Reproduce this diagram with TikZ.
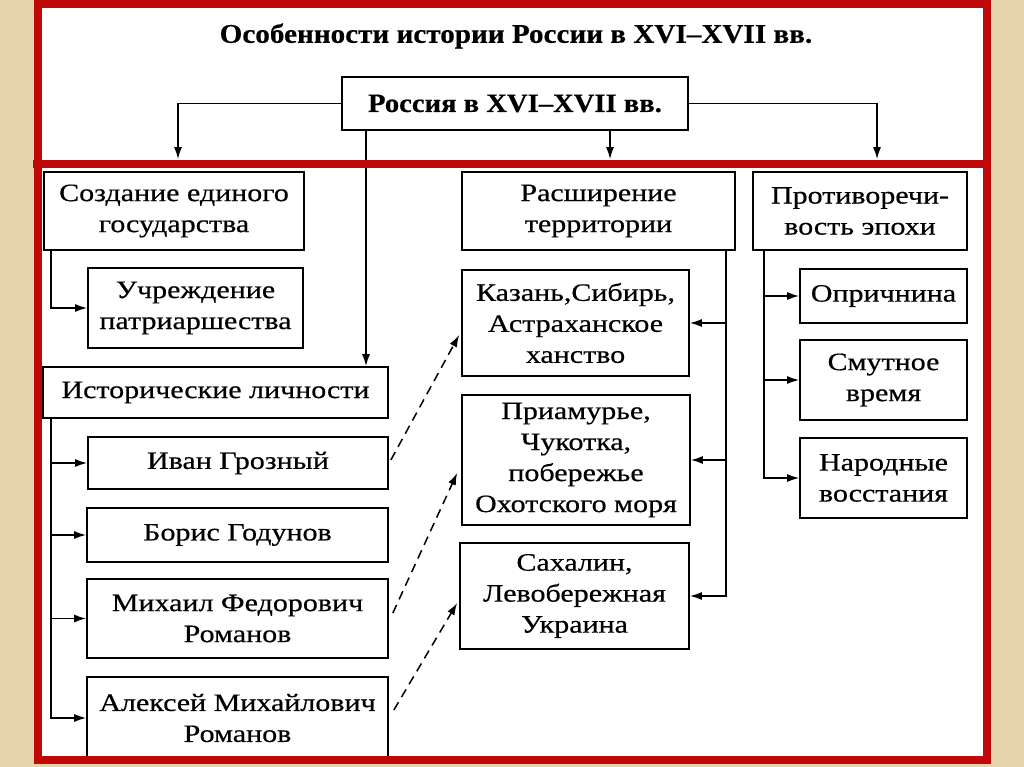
\documentclass[tikz,border=0pt]{standalone}
\usepackage{fontspec}
\setmainfont{Liberation Serif}[FakeStretch=1.2]
\newfontfamily\bodyfont{Liberation Serif}[FakeStretch=1.2,FakeBold=0.5]
\newfontfamily\titlefont{Liberation Serif Bold}[FakeStretch=1.08,FakeBold=0.4]
\usetikzlibrary{arrows.meta,calc}
\definecolor{parch}{RGB}{232,212,172}
\definecolor{framered}{RGB}{192,8,8}
\begin{document}
\begin{tikzpicture}[x=1pt,y=-1pt,
  box/.style={draw=black, line width=1.7pt, inner sep=0pt, align=center, text=black,
    font=\bodyfont\fontsize{25}{31}\selectfont},
  arr/.style={draw=black, line width=1.5pt, -{Latex[length=12pt,width=8pt]}},
  darr/.style={draw=black, line width=1.5pt, dash pattern=on 9pt off 6pt, -{Latex[length=12pt,width=8pt]}},
  ln/.style={draw=black, line width=1.5pt}]
\useasboundingbox (0,0) rectangle (1024,767);
\fill[parch] (0,0) rectangle (1024,767);
\fill[white] (37,4) rectangle (987,760);

\node[font=\titlefont\fontsize{27}{30}\selectfont, inner sep=0pt] (title) at (516,36) {Особенности истории России в XVI–XVII вв.};
\node[box, minimum width=346pt, minimum height=53pt, font=\titlefont\fontsize{26.5}{30}\selectfont] (root) at (515,103.5) {Россия в XVI–XVII вв.};

\node[box, minimum width=260pt, minimum height=78pt] (sozd) at (174,211) {Создание единого\\государства};
\node[box, minimum width=273pt, minimum height=78pt] (rassh) at (598.5,211) {Расширение\\территории};
\node[box, minimum width=214pt, minimum height=78pt] (protiv) at (860,211) {Противоречи-\\вость эпохи};

\node[box, minimum width=215pt, minimum height=80pt] (uchr) at (195.5,308) {Учреждение\\патриаршества};
\node[box, minimum width=345pt, minimum height=51pt] (istor) at (215.5,392.5) {Исторические личности};
\node[box, minimum width=300pt, minimum height=52pt] (ivan) at (238,463) {Иван Грозный};
\node[box, minimum width=301pt, minimum height=54pt] (boris) at (237.5,535) {Борис Годунов};
\node[box, minimum width=301pt, minimum height=79pt] (mikh) at (237.5,618.5) {Михаил Федорович\\Романов};
\node[box, minimum width=301pt, minimum height=82pt] (alex) at (237.5,718) {Алексей Михайлович\\Романов};

\node[box, minimum width=227pt, minimum height=106pt] (kazan) at (575.5,323) {Казань,Сибирь,\\Астраханское\\ханство};
\node[box, minimum width=228pt, minimum height=130pt] (priam) at (576,460) {Приамурье,\\Чукотка,\\побережье\\Охотского моря};
\node[box, minimum width=229pt, minimum height=106pt] (sakh) at (574.5,596) {Сахалин,\\Левобережная\\Украина};

\node[box, minimum width=167pt, minimum height=54pt] (oprich) at (883.5,296) {Опричнина};
\node[box, minimum width=167pt, minimum height=80pt] (smut) at (883.5,380) {Смутное\\время};
\node[box, minimum width=167pt, minimum height=80pt] (narod) at (883.5,478) {Народные\\восстания};

% top connectors
\draw[arr, shorten >=12pt] (root.west) -| ([xshift=4pt]sozd.north);
\draw[arr, shorten >=12pt] (root.east) -| ([xshift=17pt]protiv.north);
\draw[arr, shorten >=12pt] ([xshift=95pt]root.south) -- ([xshift=11.5pt]rassh.north);
\draw[arr] ([xshift=-149pt]root.south) -- ([xshift=150.5pt]istor.north);

% left trunks
\coordinate (lt1) at ([xshift=8pt]sozd.south west);
\draw[arr] (lt1) |- (uchr.west);
\coordinate (lt2) at ([xshift=9pt]istor.south west);
\draw[arr] (lt2) |- (alex.west);
\draw[arr] (lt2 |- ivan.west) -- (ivan.west);
\draw[arr] (lt2 |- boris.west) -- (boris.west);
\draw[arr] (lt2 |- mikh.west) -- (mikh.west);

% middle trunk
\coordinate (mt) at ([xshift=-10pt]rassh.south east);
\draw[arr] (mt) |- (sakh.east);
\draw[arr] (mt |- kazan.east) -- (kazan.east);
\draw[arr] (mt |- priam.east) -- (priam.east);

% right trunk
\coordinate (rt) at ([xshift=12pt]protiv.south west);
\draw[arr] (rt) |- (narod.west);
\draw[arr] (rt |- oprich.west) -- (oprich.west);
\draw[arr] (rt |- smut.west) -- (smut.west);

% dashed
\draw[darr] ([xshift=2pt,yshift=3pt]ivan.east) -- ([xshift=-2pt,yshift=-12pt]kazan.west);
\draw[darr] ([xshift=4pt,yshift=5.5pt]mikh.east) -- ([xshift=-4pt,yshift=-13pt]priam.west);
\draw[darr] ([xshift=5pt,yshift=8pt]alex.east) -- ([xshift=-2pt,yshift=-7pt]sakh.west);

% red frame
\draw[framered, line width=8pt] (37.5,4) rectangle (987,760);
\draw[framered, line width=8pt] (33,164) -- (991,164);
\end{tikzpicture}
\end{document}
